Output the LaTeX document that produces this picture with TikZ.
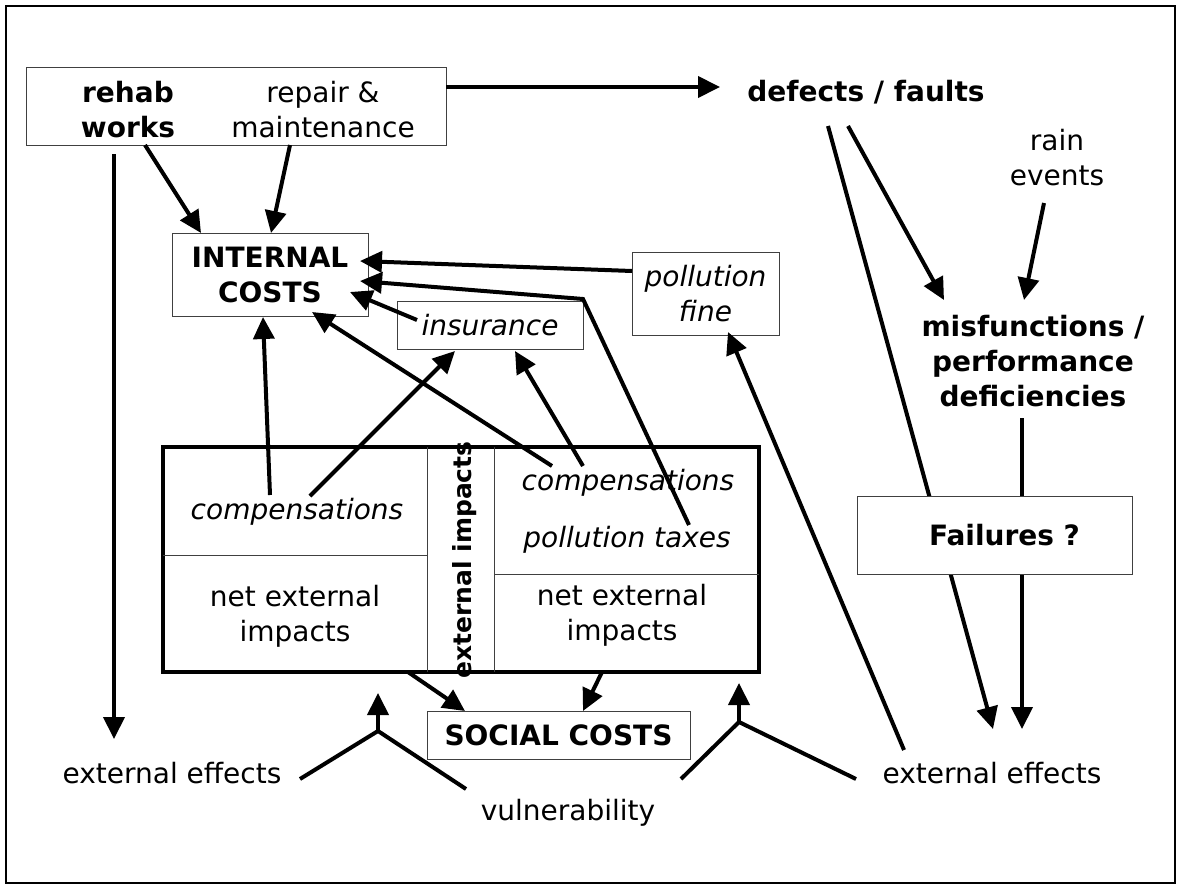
\documentclass[tikz,border=0pt]{standalone}
\usepackage{fontspec}
\setmainfont{DejaVu Sans}
\usetikzlibrary{arrows.meta}
\begin{document}
\begin{tikzpicture}[x=1pt,y=-1pt,
  txt/.style={inner sep=0pt, align=center, font=\fontsize{28}{35}\selectfont},
  btxt/.style={inner sep=0pt, align=center, font=\fontsize{28}{35}\selectfont\bfseries},
  itxt/.style={inner sep=0pt, align=center, font=\fontsize{28}{35}\selectfont\itshape},
  thinbox/.style={draw=black!75, line width=1pt, fill=white},
  arr/.style={line width=4pt, -{Triangle[length=22pt,width=21pt]}},
  ln/.style={line width=4pt},
  sep/.style={draw=black!75, line width=1pt},
]
\useasboundingbox (0,0) rectangle (1178,886);
% frame
\draw[line width=2pt] (6,6) rectangle (1175,883);

% big box of impacts
\node[draw, line width=4pt, minimum width=596pt, minimum height=225pt, inner sep=0pt] (big) at (461,559.5) {};
\draw[sep] (427,447) -- (427,672);
\draw[sep] (494,447) -- (494,672);
\draw[sep] (163,555) -- (427,555);
\draw[sep] (494,574) -- (759,574);
\node[itxt] (compL) at (297,512) {compensations};
\node[txt] (netL) at (295,616) {net external\\impacts};
\node[inner sep=0pt, font=\fontsize{25}{30}\selectfont\bfseries, rotate=90] (extimp) at (465,560) {external impacts};
\node[itxt] (compR) at (628,483) {compensations};
\node[itxt] (taxes) at (627,540) {pollution taxes};
\node[txt] (netR) at (622,615) {net external\\impacts};

% boxes
\node[thinbox, minimum width=420pt, minimum height=78pt, inner sep=0pt] (top) at (236,106) {};
\node[btxt] (rehab) at (128,110) {rehab\\works};
\node[txt] (repair) at (323,110) {repair \&\\maintenance};
\node[thinbox, btxt, minimum width=196pt, minimum height=83pt] (internal) at (270,274.5) {INTERNAL\\COSTS};
\node[thinbox, itxt, minimum width=186pt, minimum height=48pt] (insurance) at (490,325) {insurance};
\node[thinbox, itxt, minimum width=147pt, minimum height=83pt] (fine) at (705.5,293.5) {pollution\\fine};
\node[thinbox, btxt, minimum width=263pt, minimum height=48pt] (social) at (558.5,735) {SOCIAL COSTS};

% free labels
\node[btxt] (defects) at (866,92) {defects / faults};
\node[txt] (rain) at (1057,158) {rain\\events};
\node[btxt] (misf) at (1033,361) {misfunctions /\\performance\\deficiencies};
\node[txt] (extL) at (172,773) {external effects};
\node[txt] (vuln) at (568,813) {vulnerability};
\node[txt] (extR) at (992,773) {external effects};

% connector end points
\coordinate (a1) at (446,87);   \coordinate (a2) at (720,87);
\coordinate (b1) at (145,145);  \coordinate (b2) at (201,233);
\coordinate (c1) at (290,145);  \coordinate (c2) at (271,233);
\coordinate (d1) at (114,154);  \coordinate (d2) at (114,739);
\coordinate (e1) at (828,126);  \coordinate (e2) at (993,729);
\coordinate (f1) at (848,126);  \coordinate (f2) at (944,300);
\coordinate (g1) at (1044,203); \coordinate (g2) at (1024,300);
\coordinate (h1) at (1022,418); \coordinate (h2) at (1022,729);
\coordinate (i1) at (632,271);  \coordinate (i2) at (360,261);
\coordinate (j1) at (689,525);  \coordinate (jk) at (583,299); \coordinate (j2) at (360,281);
\coordinate (k1) at (417,320);  \coordinate (k2) at (350,292);
\coordinate (l1) at (270,495);  \coordinate (l2) at (263,317);
\coordinate (m1) at (552,466);  \coordinate (m2) at (312,312);
\coordinate (n1) at (310,496);  \coordinate (n2) at (455,351);
\coordinate (o1) at (583,466);  \coordinate (o2) at (515,351);
\coordinate (p1) at (904,750);  \coordinate (p2) at (728,332);
\coordinate (q1) at (408,672);  \coordinate (q2) at (465,711);
\coordinate (r1) at (602,672);  \coordinate (r2) at (583,711);
\coordinate (yl1) at (300,779); \coordinate (ylj) at (378,731); \coordinate (yl2) at (466,789); \coordinate (ylt) at (378,693);
\coordinate (yr1) at (681,779); \coordinate (yrj) at (739,722); \coordinate (yr2) at (856,779); \coordinate (yrt) at (739,683);

\draw[arr] (a1) -- (a2);
\draw[arr] (b1) -- (b2);
\draw[arr] (c1) -- (c2);
\draw[arr] (d1) -- (d2);
\draw[arr] (e1) -- (e2);
\draw[arr] (f1) -- (f2);
\draw[arr] (g1) -- (g2);
\draw[arr] (h1) -- (h2);
\draw[arr] (i1) -- (i2);
\draw[arr] (j1) -- (jk) -- (j2);
\draw[arr] (k1) -- (k2);
\draw[arr] (l1) -- (l2);
\draw[arr] (m1) -- (m2);
\draw[arr] (n1) -- (n2);
\draw[arr] (o1) -- (o2);
\draw[arr] (p1) -- (p2);
\draw[arr] (q1) -- (q2);
\draw[arr] (r1) -- (r2);
\draw[ln] (yl1) -- (ylj) -- (yl2);
\draw[arr] (ylj) -- (ylt);
\draw[ln] (yr1) -- (yrj) -- (yr2);
\draw[arr] (yrj) -- (yrt);

% failures box drawn over the lines that pass behind it
\node[thinbox, btxt, minimum width=275pt, minimum height=78pt] (fail) at (994.5,535) {\hspace*{20pt}Failures ?};
\end{tikzpicture}
\end{document}
